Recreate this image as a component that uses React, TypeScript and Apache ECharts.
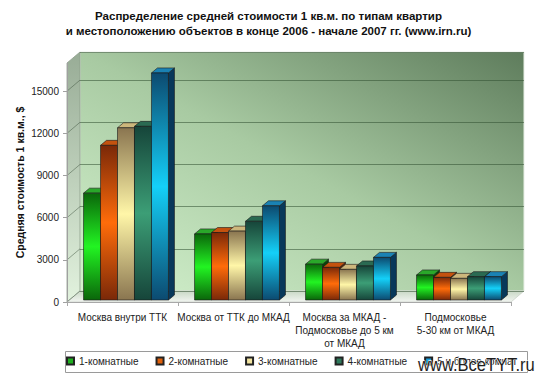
import React, { useEffect, useRef } from "react";
import * as echarts from "echarts";

const titleText =
  "Распределение средней стоимости 1 кв.м. по типам квартир\nи местоположению объектов в конце 2006 - начале 2007 гг. (www.irn.ru)";
const yAxisTitle = "Средняя стоимость 1 кв.м., $";
const categories = [
  "Москва внутри ТТК",
  "Москва от ТТК до МКАД",
  "Москва за МКАД -\nПодмосковье до 5 км\nот МКАД",
  "Подмосковье\n5-30 км от МКАД",
];
const seriesNames = ["1-комнатные", "2-комнатные", "3-комнатные", "4-комнатные", "5 и более комнат"];
const rooms1 = [7600, 4700, 2550, 1780];
const rooms2 = [11000, 4800, 2320, 1610];
const rooms3 = [12250, 4900, 2180, 1540];
const rooms4 = [12350, 5600, 2420, 1660];
const rooms5 = [16150, 6700, 3030, 1660];
const seriesValues = [rooms1, rooms2, rooms3, rooms4, rooms5];
const yTicks = [0, 3000, 6000, 9000, 12000, 15000];
const yMax = 17000;
const watermark = "www.BceTYT.ru";

const PALETTE = [
  { dark: "#0a660a", bright: "#22f422", top: "#2aa82a", side: "#094409", legend: "#1fb01f" },
  { dark: "#7a2808", bright: "#ff6c0a", top: "#c4520f", side: "#561d05", legend: "#e0600a" },
  { dark: "#8a7550", bright: "#fff6a8", top: "#cdb77c", side: "#665535", legend: "#f2e4a0" },
  { dark: "#16453a", bright: "#3c9e76", top: "#2a6a52", side: "#0e3127", legend: "#2e7a5c" },
  { dark: "#0c4a70", bright: "#14d0f8", top: "#1a82b4", side: "#08385a", legend: "#1aa0e0" },
];

const FRONT = { left: 67, right: 26, top: 63, bottom: 73 };
const BACK = { left: 80, right: 13, top: 52, bottom: 84 };
const W = 537;
const H = 375;
const FONT = "'Liberation Sans', Arial, sans-serif";
const STROKE = "#1a1a1a";

function makeRender(i: number) {
  return (params: any, api: any) => {
    const cat = api.value(0);
    const v = api.value(1);
    const top = api.coord([cat, v]);
    const base = api.coord([cat, 0]);
    const catW = api.size([1, 0])[0];
    const bw = catW * 0.153;
    const x0 = base[0] - catW * 0.351 + i * bw;
    const x1 = x0 + bw;
    const yb = base[1] - 2;
    const yt = top[1] - 2;
    const dx = 6;
    const dy = -5;
    const c = PALETTE[i];
    return {
      type: "group",
      children: [
        {
          type: "polygon",
          shape: { points: [[x1, yt], [x1 + dx, yt + dy], [x1 + dx, yb + dy], [x1, yb]] },
          style: { fill: c.side, stroke: STROKE, lineWidth: 0.6 },
        },
        {
          type: "polygon",
          shape: { points: [[x0, yt], [x0 + dx, yt + dy], [x1 + dx, yt + dy], [x1, yt]] },
          style: { fill: c.top, stroke: STROKE, lineWidth: 0.6 },
        },
        {
          type: "rect",
          shape: { x: x0, y: yt, width: bw, height: yb - yt },
          style: {
            fill: new echarts.graphic.LinearGradient(0, 0, 0, 1, [
              { offset: 0, color: c.dark },
              { offset: 0.5, color: c.bright },
              { offset: 1, color: c.dark },
            ]),
            stroke: STROKE,
            lineWidth: 0.6,
          },
        },
      ],
    };
  };
}

function baseGraphics(diag: any[]) {
  const fx0 = FRONT.left;
  const fx1 = W - FRONT.right;
  const fy0 = FRONT.top;
  const fy1 = H - FRONT.bottom;
  const bx0 = BACK.left;
  const bx1 = W - BACK.right;
  const by0 = BACK.top;
  const by1 = H - BACK.bottom;
  return [
    {
      id: "backwall",
      type: "rect",
      z: 1,
      shape: { x: bx0, y: by0, width: bx1 - bx0, height: by1 - by0 },
      style: {
        fill: new echarts.graphic.LinearGradient(0, 1, 1, 0, [
          { offset: 0, color: "#d4f2ce" },
          { offset: 0.5, color: "#a8caa2" },
          { offset: 1, color: "#5e7c5c" },
        ]),
        stroke: "#e8efe6",
        lineWidth: 1,
      },
    },
    {
      id: "leftwall",
      type: "polygon",
      z: 1,
      shape: { points: [[fx0, fy0], [bx0, by0], [bx0, by1], [fx0, fy1]] },
      style: {
        fill: new echarts.graphic.LinearGradient(0, 0, 0, 1, [
          { offset: 0, color: "#98ac96" },
          { offset: 1, color: "#e2f2de" },
        ]),
        stroke: "#8e9e8c",
        lineWidth: 0.8,
      },
    },
    {
      id: "floor",
      type: "polygon",
      z: 1,
      shape: { points: [[fx0, fy1], [bx0, by1], [bx1, by1], [fx1, fy1]] },
      style: {
        fill: new echarts.graphic.LinearGradient(0, 0, 0, 1, [
          { offset: 0, color: "#c9d8c6" },
          { offset: 1, color: "#f2f5f1" },
        ]),
        stroke: "#c0c8be",
        lineWidth: 0.6,
      },
    },
    ...diag,
    {
      id: "legendbox",
      type: "rect",
      z: 1,
      shape: { x: 65.5, y: 351.5, width: 462, height: 21 },
      style: { fill: "#ffffff", stroke: "#9a9a9a", lineWidth: 1 },
    },
    {
      id: "watermark",
      type: "text",
      z: 20,
      x: 418,
      y: 356,
      scaleX: 0.92,
      style: {
        text: watermark,
        fill: "#1e1e1e",
        font: `18px ${FONT}`,
        stroke: "#ffffff",
        lineWidth: 1,
      },
    },
  ];
}

export default function App() {
  const ref = useRef<HTMLDivElement>(null);
  useEffect(() => {
    document.body.style.margin = "0";
    if (!ref.current) return;
    const chart = echarts.init(ref.current, null, { renderer: "svg" });
    const option: any = {
      animation: false,
      backgroundColor: "#ffffff",
      title: {
        text: titleText,
        left: "center",
        top: 3,
        textStyle: { fontFamily: FONT, fontSize: 11.5, fontWeight: "bold", color: "#111", lineHeight: 15 },
      },
      legend: {
        data: seriesNames,
        left: 66,
        top: 356,
        width: 480,
        icon: "rect",
        itemWidth: 7,
        itemHeight: 7,
        itemGap: 17,
        padding: 0,
        textStyle: { fontFamily: FONT, fontSize: 10, color: "#222" },
      },
      grid: [
        { left: FRONT.left, right: FRONT.right, top: FRONT.top, bottom: FRONT.bottom },
        { left: BACK.left, right: BACK.right, top: BACK.top, bottom: BACK.bottom },
      ],
      xAxis: [
        {
          type: "category",
          gridIndex: 0,
          data: categories,
          z: 3,
          axisLine: { show: true, lineStyle: { color: "#a8a8a8", width: 1 } },
          axisTick: { show: true, length: 4, interval: 0, lineStyle: { color: "#a8a8a8" } },
          axisLabel: {
            interval: 0,
            margin: 9,
            fontFamily: FONT,
            fontSize: 10,
            lineHeight: 13,
            color: "#222",
          },
        },
        {
          type: "category",
          gridIndex: 1,
          data: categories,
          show: false,
        },
      ],
      yAxis: [
        {
          type: "value",
          gridIndex: 0,
          min: 0,
          max: yMax,
          interval: 3000,
          z: 3,
          name: yAxisTitle,
          nameLocation: "middle",
          nameGap: 42,
          nameMoveOverlap: false,
          nameTextStyle: { fontFamily: FONT, fontSize: 10.5, fontWeight: "bold", color: "#111" },
          axisLine: { show: true, lineStyle: { color: "#a0a0a0" } },
          axisTick: { show: true, length: 4, lineStyle: { color: "#a0a0a0" } },
          splitLine: { show: false },
          axisLabel: {
            showMaxLabel: false,
            margin: 8,
            fontFamily: FONT,
            fontSize: 10,
            color: "#222",
            formatter: (v: number) => String(v),
          },
        },
        {
          type: "value",
          gridIndex: 1,
          min: 0,
          max: yMax,
          interval: 3000,
          z: 2,
          axisLine: { show: false },
          axisTick: { show: false },
          axisLabel: { show: false },
          splitLine: { show: true, lineStyle: { color: "rgba(50,80,50,0.55)", width: 1 } },
        },
      ],
      series: seriesValues.map((vals, i) => ({
        name: seriesNames[i],
        type: "custom",
        xAxisIndex: 0,
        yAxisIndex: 0,
        z: 5,
        itemStyle: { color: PALETTE[i].legend, borderColor: "#222", borderWidth: 1 },
        renderItem: makeRender(i),
        encode: { x: 0, y: 1 },
        data: vals.map((v, k) => [k, v]),
      })),
      graphic: baseGraphics([]),
    };
    chart.setOption(option);

    const diag = yTicks.map((v, k) => {
      const fy = chart.convertToPixel({ yAxisIndex: 0 }, v) as number;
      const by = chart.convertToPixel({ yAxisIndex: 1 }, v) as number;
      return {
        id: "diag" + k,
        type: "line",
        z: 2,
        shape: { x1: FRONT.left, y1: fy, x2: BACK.left, y2: by },
        style: { stroke: "rgba(60,80,60,0.6)", lineWidth: 0.8 },
      };
    });
    chart.setOption({ graphic: baseGraphics(diag) });

    return () => chart.dispose();
  }, []);
  return (
    <div
      ref={ref}
      style={{ position: "absolute", left: 0, top: 0, width: W, height: H }}
    />
  );
}
